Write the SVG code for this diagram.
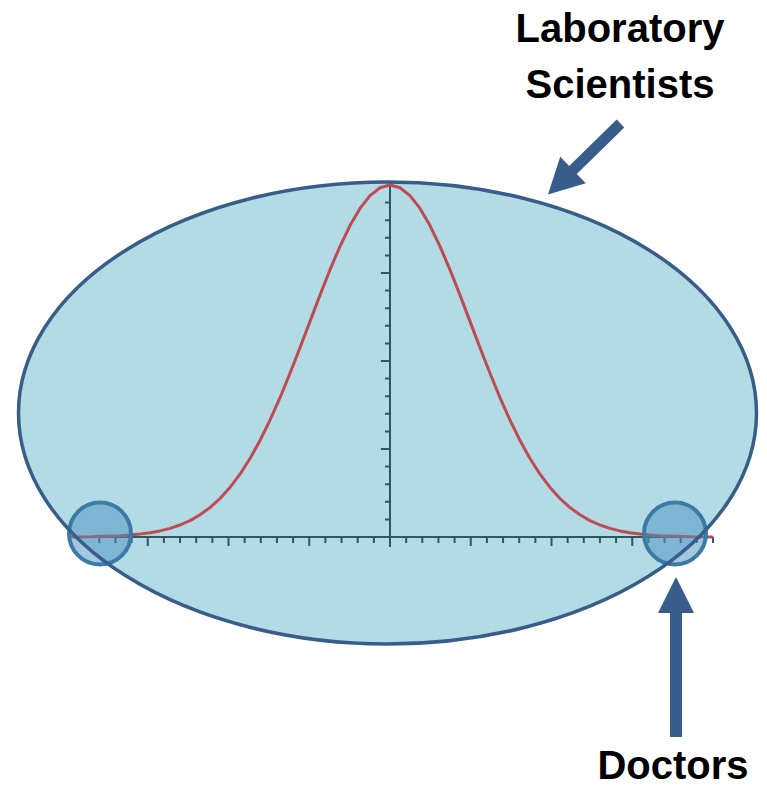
<svg xmlns="http://www.w3.org/2000/svg" width="767" height="788" viewBox="0 0 767 788">
<defs>
<style>
.lbl{font-family:"Liberation Sans",Arial,sans-serif;font-weight:bold;font-size:40px;fill:#000;text-anchor:middle}
.axis{stroke:#2f5661;stroke-width:2;fill:none}
.curve{stroke:#be4b52;stroke-width:3;fill:none;stroke-linejoin:round;stroke-linecap:round}
.hl{fill:#4a90c0;fill-opacity:0.5;stroke:#3c7aa6;stroke-width:4}
.arrow{fill:#385d8a}
</style>
</defs>
<rect width="767" height="788" fill="#ffffff"/>
<g id="population">
<ellipse cx="387.5" cy="413" rx="369" ry="231" fill="#b3dbe5"/>
</g>
<g id="chart">
<path class="axis" d="M70,537 H713 M390,183 V547"/>
<path class="axis" d="M99.3,537v6M115.45,537v6M131.6,537v6M147.75,537v9M163.9,537v6M180.05,537v6M196.2,537v6M212.35,537v6M228.5,537v9M244.65,537v6M260.8,537v6M276.95,537v6M293.1,537v6M309.25,537v9M325.4,537v6M341.55,537v6M357.7,537v6M373.85,537v6M406.15,537v6M422.3,537v6M438.45,537v6M454.6,537v6M470.75,537v9M486.9,537v6M503.05,537v6M519.2,537v6M535.35,537v6M551.5,537v9M567.65,537v6M583.8,537v6M599.95,537v6M616.1,537v6M632.25,537v9M648.4,537v6M664.55,537v6M680.7,537v6M696.85,537v6M713,537v6"/>
<path class="axis" d="M385,519.4h5M385,501.8h5M385,484.2h5M385,466.6h5M381,449h9M385,431.4h5M385,413.8h5M385,396.2h5M385,378.6h5M381,361h9M385,343.4h5M385,325.8h5M385,308.2h5M385,290.6h5M381,273h9M385,255.4h5M385,237.8h5M385,220.2h5M385,202.6h5"/>
<path class="curve" d="M70,537 L90,536.8 L110,536.1 L120,535.7 L130,535 L140,534.1 L150,532.7 L160,530.9 L170,528.4 L180,525 L190,520.6 L200,514.8 L210,507.6 L220,498.5 L230,487.4 L240,474.2 L250,458.5 L260,440.5 L270,420.2 L280,397.7 L290,373.3 L300,347.7 L310,321.4 L320,295.1 L330,269.8 L340,246.3 L350,225.6 L360,208.4 L370,195.6 L380,187.7 L390,185 L400,187.7 L410,195.6 L420,208.4 L430,225.6 L440,246.3 L450,269.8 L460,295.1 L470,321.4 L480,347.7 L490,373.3 L500,397.7 L510,420.2 L520,440.5 L530,458.5 L540,474.2 L550,487.4 L560,498.5 L570,507.6 L580,514.8 L590,520.6 L600,525 L610,528.4 L620,530.9 L630,532.7 L640,534.1 L650,535 L660,535.7 L670,536.1 L690,536.8 L712,537"/>
</g>
<g id="left-tail">
<circle class="hl" cx="100" cy="533.5" r="31"/>
</g>
<g id="right-tail">
<circle class="hl" cx="675" cy="533.5" r="31"/>
</g>
<g id="population-outline">
<ellipse cx="387.5" cy="413" rx="369" ry="231" fill="none" stroke="#385d8a" stroke-width="3.5"/>
</g>
<g id="connectors">
<polygon class="arrow" points="624.3,127.4 576.8,173.9 585.8,183.2 548,194.5 560.2,156.8 569.2,166.1 616.7,119.6"/>
<polygon class="arrow" points="676,577 694,613 682,613 682,737 670,737 670,613 658,613"/>
</g>
<g id="label-lab">
<text class="lbl" x="620" y="42">Laboratory</text>
<text class="lbl" x="620" y="98">Scientists</text>
</g>
<g id="label-doctors">
<text class="lbl" x="673" y="779">Doctors</text>
</g>
</svg>
